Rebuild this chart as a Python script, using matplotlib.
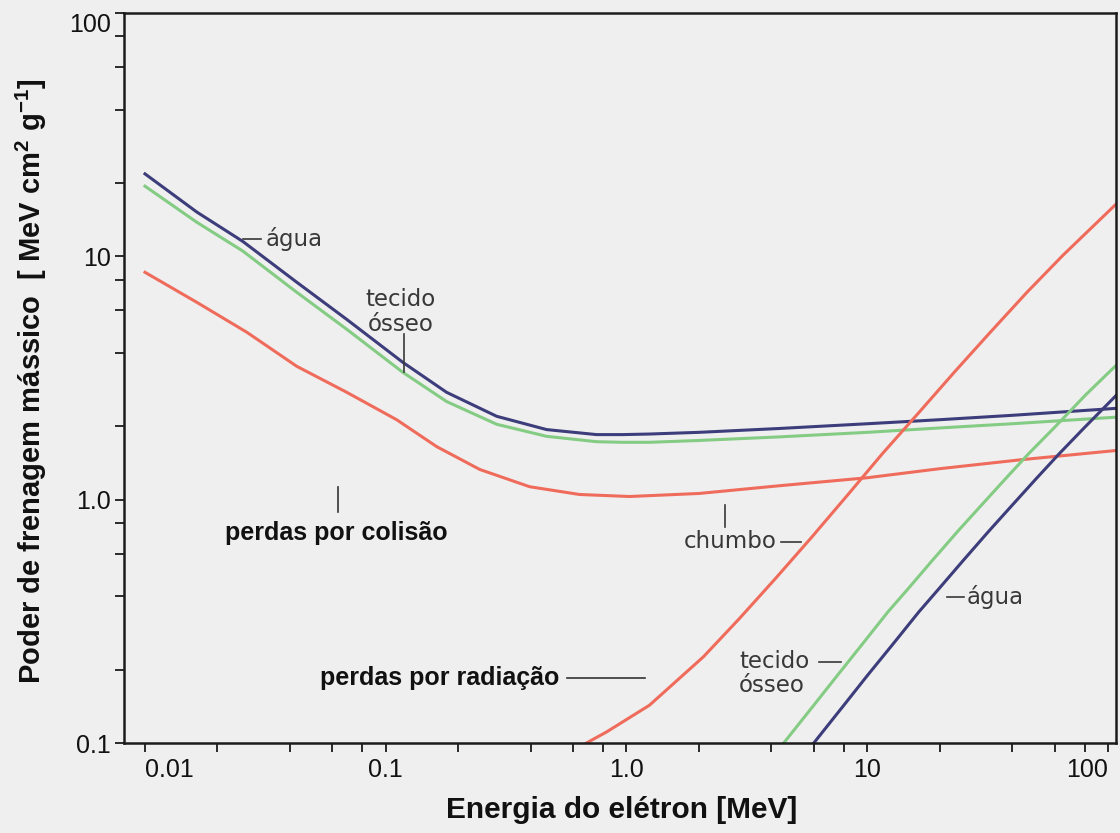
import matplotlib
matplotlib.use("Agg")
import matplotlib.pyplot as plt
from matplotlib import font_manager
from matplotlib.ticker import FixedLocator, NullFormatter

# ---- data: mass stopping power of electrons [MeV cm^2 g^-1] ----
# collision losses
coll_energy = [0.01, 0.0164, 0.0255, 0.0427, 0.0689, 0.118, 0.179, 0.289,
               0.466, 0.751, 0.96, 1.245, 2.0, 4.3, 10.0, 20.0, 40.0, 107]
water_coll = [21.8, 15.2, 11.5, 7.82, 5.50, 3.66, 2.76, 2.20,
              1.94, 1.85, 1.85, 1.86, 1.89, 1.96, 2.05, 2.13, 2.22, 2.37]
bone_coll = [19.4, 13.8, 10.5, 7.11, 5.01, 3.33, 2.53, 2.04,
             1.82, 1.73, 1.72, 1.72, 1.75, 1.81, 1.89, 1.97, 2.05, 2.18]

lead_coll_energy = [0.01, 0.0164, 0.0265, 0.0427, 0.0689, 0.111, 0.163, 0.246,
                    0.396, 0.638, 1.03, 2.0, 4.3, 10.0, 20.0, 44.0, 107]
lead_coll = [8.59, 6.47, 4.87, 3.53, 2.76, 2.13, 1.65, 1.33,
             1.13, 1.05, 1.03, 1.06, 1.14, 1.23, 1.34, 1.46, 1.59]

# radiative losses
lead_rad_energy = [0.682, 0.826, 1.246, 2.087, 2.94, 4.15, 5.86, 8.26, 11.6,
                   16.4, 23.2, 32.7, 46.1, 65.1, 109]
lead_rad = [0.100, 0.111, 0.143, 0.226, 0.324, 0.473, 0.698, 1.04, 1.55,
            2.28, 3.37, 4.91, 7.11, 10.1, 16.5]

water_rad_energy = [6.0, 8.0, 10.0, 13.0, 16.4, 20.0, 25.0, 32.0, 40.0,
                    50.0, 63.0, 80.0, 109]
water_rad = [0.100, 0.143, 0.189, 0.26, 0.346, 0.434, 0.561, 0.742, 0.948,
             1.21, 1.55, 1.98, 2.70]

bone_rad_energy = [4.5, 6.0, 7.5, 9.7, 12.2, 14.9, 18.6, 23.8, 29.8,
                   37.3, 47.0, 60.0, 81.0, 109]
bone_rad = [0.100, 0.143, 0.189, 0.26, 0.346, 0.434, 0.561, 0.742, 0.948,
            1.21, 1.55, 1.98, 2.70, 3.59]

x_major = [0.01, 0.1, 1.0, 10, 100]
x_major_labels = ["0.01", "0.1", "1.0", "10", "100"]
y_major = [0.1, 1.0, 10, 100]
y_major_labels = ["0.1", "1.0", "10", "100"]

# ---- style ----
water_color = "#3d3d7c"
bone_color = "#84cc84"
lead_color = "#ef6c5c"
note_color = "#383838"
bg = "#efefef"

available = {f.name for f in font_manager.fontManager.ttflist}
tick_family = "Liberation Sans Narrow" if "Liberation Sans Narrow" in available else "Liberation Sans"

plt.rcParams["font.family"] = ["Liberation Sans", "DejaVu Sans"]
plt.rcParams["mathtext.fontset"] = "custom"
plt.rcParams["mathtext.rm"] = "Liberation Sans"
plt.rcParams["mathtext.bf"] = "Liberation Sans:bold"

fig = plt.figure(figsize=(11.2, 8.33), dpi=100, facecolor=bg)
ax = fig.add_axes([0.1107, 0.108, 0.8857, 0.8766], facecolor=bg)
ax.set_xscale("log")
ax.set_yscale("log")
ax.set_xlim(0.00818, 108)
ax.set_ylim(0.1, 100)

lw = 2.2
ax.plot(coll_energy, water_coll, color=water_color, lw=lw, solid_joinstyle="round")
ax.plot(coll_energy, bone_coll, color=bone_color, lw=lw, solid_joinstyle="round")
ax.plot(lead_coll_energy, lead_coll, color=lead_color, lw=lw, solid_joinstyle="round")
ax.plot(lead_rad_energy, lead_rad, color=lead_color, lw=lw, solid_joinstyle="round")
ax.plot(bone_rad_energy, bone_rad, color=bone_color, lw=lw, solid_joinstyle="round")
ax.plot(water_rad_energy, water_rad, color=water_color, lw=lw, solid_joinstyle="round")

# ---- axes frame and ticks ----
for sp in ax.spines.values():
    sp.set_color("#1c1c1c")
    sp.set_linewidth(1.8)

minor_subs = [2, 4, 6, 8]
x_minor = [s * 10.0 ** e for e in range(-2, 3) for s in minor_subs]
y_minor = [s * 10.0 ** e for e in range(-1, 2) for s in minor_subs]
ax.xaxis.set_major_locator(FixedLocator(x_major))
ax.xaxis.set_minor_locator(FixedLocator(x_minor))
ax.yaxis.set_major_locator(FixedLocator(y_major))
ax.yaxis.set_minor_locator(FixedLocator(y_minor))
ax.xaxis.set_minor_formatter(NullFormatter())
ax.yaxis.set_minor_formatter(NullFormatter())
ax.set_xticklabels(x_major_labels)
ax.set_yticklabels(y_major_labels)

ax.tick_params(which="both", direction="out", length=6.5, width=1.4, color="#2a2a2a")
ax.tick_params(axis="x", which="major", pad=4)
ax.tick_params(axis="y", which="major", pad=3)
for lab in ax.get_xticklabels() + ax.get_yticklabels():
    lab.set_family(tick_family)
    lab.set_fontsize(18)
    lab.set_color("#111111")

xl = ax.get_xticklabels()
xl[0].set_ha("left")
xl[0].set_x(0.0088)
xl[-1].set_ha("right")
yl = ax.get_yticklabels()
yl[-1].set_va("top")

ax.set_xlabel("Energia do elétron [MeV]", fontsize=21.5, fontweight="bold", color="#111111")
ax.xaxis.set_label_coords(0.502, -0.072)
ax.set_ylabel("Poder de frenagem mássico  [ MeV cm$^\\mathbf{2}$ g$^\\mathbf{-1}$]",
              fontsize=21, fontweight="bold", color="#111111")
ax.yaxis.set_label_coords(-0.076, 0.495)

# ---- curve annotations ----
note = dict(color=note_color, fontsize=16.5, family="DejaVu Sans")
lead_note = dict(color=note_color, lw=1.2)

ax.text(0.0318, 11.75, "água", ha="left", va="center", **note)
ax.plot([0.0255, 0.0303], [11.75, 11.75], **lead_note)

ax.text(0.1154, 6.65, "tecido", ha="center", va="center", **note)
ax.text(0.1154, 5.25, "ósseo", ha="center", va="center", **note)
ax.plot([0.119, 0.119], [4.77, 3.33], **lead_note)

ax.text(0.0626, 0.731, "perdas por colisão", ha="center", va="center",
        fontsize=18, fontweight="bold", color="#111111")
ax.plot([0.0632, 0.0632], [1.13, 0.893], color="#333333", lw=1.2)

ax.text(4.19, 0.672, "chumbo", ha="right", va="center", **note)
ax.plot([4.40, 5.32], [0.672, 0.672], **lead_note)
ax.plot([2.57, 2.57], [0.954, 0.774], **lead_note)

ax.text(26.0, 0.399, "água", ha="left", va="center", **note)
ax.plot([21.5, 25.2], [0.399, 0.399], **lead_note)

ax.text(2.94, 0.216, "tecido", ha="left", va="center", **note)
ax.text(2.94, 0.173, "ósseo", ha="left", va="center", **note)
ax.plot([6.32, 7.8], [0.216, 0.216], **lead_note)

ax.text(0.527, 0.185, "perdas por radiação", ha="right", va="center",
        fontsize=18, fontweight="bold", color="#111111")
ax.plot([0.564, 1.19], [0.185, 0.185], color="#333333", lw=1.2)

fig.savefig("out.png", dpi=100, facecolor=bg)
